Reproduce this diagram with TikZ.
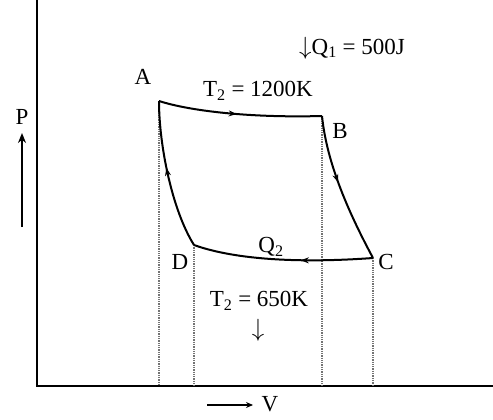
\documentclass[tikz,border=0pt]{standalone}
\usepackage{fontspec}
\setmainfont{Liberation Serif}
\usetikzlibrary{decorations.markings,arrows.meta}
\begin{document}
\begin{tikzpicture}[x=1pt,y=-1pt,
  lbl/.style={font=\fontsize{23}{25}\selectfont, inner sep=0pt},
  curve/.style={line width=2pt},
  axis/.style={line width=2.6pt},
  guide/.style={densely dotted, line width=1.3pt, black!55},
  midarrow/.style={postaction={decorate}, decoration={markings, mark=at position #1 with {\arrow{Stealth[length=8pt,width=6pt]}}}}
]
\useasboundingbox (0,0) rectangle (493,420);
% points
\coordinate (A) at (159,101);
\coordinate (B) at (322,116);
\coordinate (C) at (373,258);
\coordinate (D) at (194,245);
% axes
\coordinate (O) at (37,386);
\coordinate (Ytop) at (37,0);
\coordinate (Xend) at (493,386);
\draw[axis] (Ytop) -- (O) -- (Xend);
% guide lines
\foreach \p in {A,B,C,D} { \draw[guide] (\p) -- (\p |- O); }
% cycle
\draw[curve, midarrow=0.48] (A) .. controls (190,111) and (250,118) .. (B);
\draw[curve, midarrow=0.45] (B) .. controls (327,165) and (350,215) .. (C);
\draw[curve, midarrow=0.4] (C) .. controls (290,264) and (230,258) .. (D);
\draw[curve, midarrow=0.55] (D) .. controls (172,210) and (159,145) .. (A);
% labels
\node[lbl] (lA) at (143,77) {A};
\node[lbl] (lB) at (340,131) {B};
\node[lbl] (lC) at (386,262) {C};
\node[lbl] (lD) at (180,262) {D};
\node[lbl] (q1) at (352,48) {$\downarrow$Q\textsubscript{1} = 500J};
\node[lbl] (t1) at (258,91) {T\textsubscript{2} = 1200K};
\node[lbl] (q2) at (271,247) {Q\textsubscript{2}};
\node[lbl] (t2) at (259,301) {T\textsubscript{2} = 650K};
\node[lbl] (t2a) at (258,330) {$\downarrow$};
\node[lbl] (lP) at (22,117) {P};
\coordinate (Pa) at (22,227);
\coordinate (Pb) at (22,133);
\draw[line width=2.4pt, -{Stealth[length=10pt,width=8pt]}] (Pa) -- (Pb);
\coordinate (Va) at (207,405);
\coordinate (Vb) at (253,405);
\draw[line width=1.3pt, -{Stealth[length=7pt,width=6pt]}] (Va) -- (Vb);
\node[lbl] (lV) at (270,404) {V};
\end{tikzpicture}
\end{document}
